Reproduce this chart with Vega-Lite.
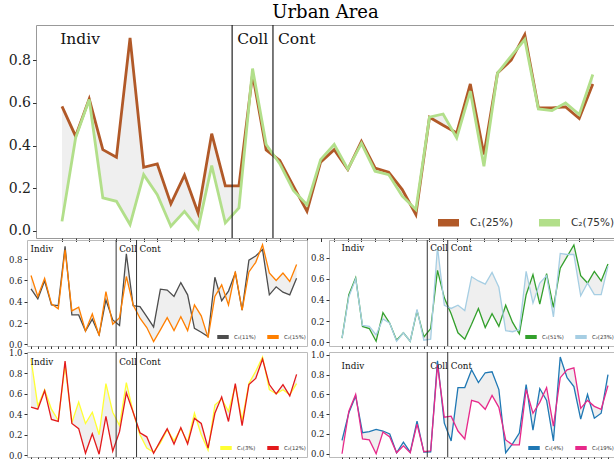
{
  "$schema": "https://vega.github.io/schema/vega-lite/v6.json",
  "background": "white",
  "padding": {"left": 7, "top": 3, "right": 0, "bottom": 0},
  "config": {
    "view": {"stroke": "#999", "strokeWidth": 1},
    "axis": {"grid": false, "domain": false, "tickColor": "#333", "labelColor": "#222", "labelFont": "DejaVu Serif", "labelPadding": 2, "minExtent": 0, "labelOverlap": false, "labelFlush": false},
    "legend": {"title": null, "padding": 0, "labelFont": "DejaVu Sans", "labelColor": "#333"}
  },
  "datasets": {
    "regions": [{"region": "Indiv", "start": -0.5}, {"region": "Coll", "start": 12.5}, {"region": "Cont", "start": 15.5}],
    "bounds": [{"b": 12.5}, {"b": 15.5}],
    "urban": [
      {"i":0,"c1":0.584,"c2":0.045},{"i":1,"c1":0.444,"c2":0.436},{"i":2,"c1":0.619,"c2":0.616},{"i":3,"c1":0.381,"c2":0.155},
      {"i":4,"c1":0.345,"c2":0.139},{"i":5,"c1":0.905,"c2":0.03},{"i":6,"c1":0.298,"c2":0.264},{"i":7,"c1":0.314,"c2":0.17},
      {"i":8,"c1":0.127,"c2":0.022},{"i":9,"c1":0.261,"c2":0.092},{"i":10,"c1":0.084,"c2":0.011},{"i":11,"c1":0.456,"c2":0.306},
      {"i":12,"c1":0.211,"c2":0.0375},{"i":13,"c1":0.211,"c2":0.108},{"i":14,"c1":0.735,"c2":0.761},{"i":15,"c1":0.38,"c2":0.405},
      {"i":16,"c1":0.33,"c2":0.315},{"i":17,"c1":0.21,"c2":0.19},{"i":18,"c1":0.092,"c2":0.123},{"i":19,"c1":0.322,"c2":0.334},
      {"i":20,"c1":0.381,"c2":0.405},{"i":21,"c1":0.288,"c2":0.29},{"i":22,"c1":0.42,"c2":0.41},{"i":23,"c1":0.295,"c2":0.28},
      {"i":24,"c1":0.275,"c2":0.264},{"i":25,"c1":0.194,"c2":0.163},{"i":26,"c1":0.077,"c2":0.1},{"i":27,"c1":0.533,"c2":0.533},
      {"i":28,"c1":0.495,"c2":0.548},{"i":29,"c1":0.459,"c2":0.436},{"i":30,"c1":0.689,"c2":0.655},{"i":31,"c1":0.358,"c2":0.303},
      {"i":32,"c1":0.74,"c2":0.74},{"i":33,"c1":0.8,"c2":0.819},{"i":34,"c1":0.92,"c2":0.897},{"i":35,"c1":0.577,"c2":0.572},
      {"i":36,"c1":0.577,"c2":0.564},{"i":37,"c1":0.581,"c2":0.6},{"i":38,"c1":0.527,"c2":0.545},{"i":39,"c1":0.689,"c2":0.733}
    ],
    "pa": [
      {"i":0,"c1":0.52,"c2":0.646},{"i":1,"c1":0.427,"c2":0.449},{"i":2,"c1":0.596,"c2":0.62},{"i":3,"c1":0.37,"c2":0.38},
      {"i":4,"c1":0.364,"c2":0.333},{"i":5,"c1":0.92,"c2":0.888},{"i":6,"c1":0.276,"c2":0.314},{"i":7,"c1":0.276,"c2":0.348},
      {"i":8,"c1":0.125,"c2":0.125},{"i":9,"c1":0.235,"c2":0.285},{"i":10,"c1":0.088,"c2":0.082},{"i":11,"c1":0.417,"c2":0.496},
      {"i":12,"c1":0.229,"c2":0.188},{"i":13,"c1":0.176,"c2":0.25},{"i":14,"c1":0.85,"c2":0.637},{"i":15,"c1":0.364,"c2":0.37},
      {"i":16,"c1":0.355,"c2":0.245},{"i":17,"c1":0.26,"c2":0.157},{"i":18,"c1":0.163,"c2":0.025},{"i":19,"c1":0.518,"c2":0.135},
      {"i":20,"c1":0.51,"c2":0.25},{"i":21,"c1":0.45,"c2":0.129},{"i":22,"c1":0.58,"c2":0.26},{"i":23,"c1":0.465,"c2":0.129},
      {"i":24,"c1":0.15,"c2":0.37},{"i":25,"c1":0.113,"c2":0.267},{"i":26,"c1":0.072,"c2":0.063},{"i":27,"c1":0.63,"c2":0.449},
      {"i":28,"c1":0.41,"c2":0.558},{"i":29,"c1":0.5,"c2":0.37},{"i":30,"c1":0.67,"c2":0.684},{"i":31,"c1":0.32,"c2":0.32},
      {"i":32,"c1":0.79,"c2":0.68},{"i":33,"c1":0.83,"c2":0.77},{"i":34,"c1":0.89,"c2":0.935},{"i":35,"c1":0.465,"c2":0.67},
      {"i":36,"c1":0.54,"c2":0.6},{"i":37,"c1":0.49,"c2":0.67},{"i":38,"c1":0.465,"c2":0.59},{"i":39,"c1":0.62,"c2":0.75}
    ],
    "pb": [
      {"i":0,"c1":0.04,"c2":0.04},{"i":1,"c1":0.45,"c2":0.43},{"i":2,"c1":0.61,"c2":0.6},{"i":3,"c1":0.15,"c2":0.16},
      {"i":4,"c1":0.13,"c2":0.15},{"i":5,"c1":0.01,"c2":0.07},{"i":6,"c1":0.28,"c2":0.22},{"i":7,"c1":0.18,"c2":0.18},
      {"i":8,"c1":0.02,"c2":0.01},{"i":9,"c1":0.09,"c2":0.09},{"i":10,"c1":0.01,"c2":0.01},{"i":11,"c1":0.3,"c2":0.31},
      {"i":12,"c1":0.05,"c2":0.02},{"i":13,"c1":0.13,"c2":0.03},{"i":14,"c1":0.68,"c2":0.9},{"i":15,"c1":0.42,"c2":0.35},
      {"i":16,"c1":0.27,"c2":0.32},{"i":17,"c1":0.09,"c2":0.35},{"i":18,"c1":0.03,"c2":0.3},{"i":19,"c1":0.17,"c2":0.62},
      {"i":20,"c1":0.32,"c2":0.58},{"i":21,"c1":0.14,"c2":0.55},{"i":22,"c1":0.27,"c2":0.66},{"i":23,"c1":0.15,"c2":0.52},
      {"i":24,"c1":0.35,"c2":0.11},{"i":25,"c1":0.19,"c2":0.1},{"i":26,"c1":0.08,"c2":0.12},{"i":27,"c1":0.45,"c2":0.67},
      {"i":28,"c1":0.64,"c2":0.37},{"i":29,"c1":0.36,"c2":0.56},{"i":30,"c1":0.65,"c2":0.63},{"i":31,"c1":0.33,"c2":0.24},
      {"i":32,"c1":0.7,"c2":0.84},{"i":33,"c1":0.81,"c2":0.83},{"i":34,"c1":0.92,"c2":0.83},{"i":35,"c1":0.63,"c2":0.44},
      {"i":36,"c1":0.56,"c2":0.56},{"i":37,"c1":0.67,"c2":0.45},{"i":38,"c1":0.58,"c2":0.45},{"i":39,"c1":0.74,"c2":0.72}
    ],
    "pc": [
      {"i":0,"c1":0.94,"c2":0.47},{"i":1,"c1":0.48,"c2":0.45},{"i":2,"c1":0.64,"c2":0.63},{"i":3,"c1":0.45,"c2":0.35},
      {"i":4,"c1":0.34,"c2":0.33},{"i":5,"c1":0.88,"c2":0.92},{"i":6,"c1":0.32,"c2":0.31},{"i":7,"c1":0.52,"c2":0.26},
      {"i":8,"c1":0.31,"c2":0.02},{"i":9,"c1":0.42,"c2":0.21},{"i":10,"c1":0.2,"c2":0.01},{"i":11,"c1":0.7,"c2":0.38},
      {"i":12,"c1":0.42,"c2":0.04},{"i":13,"c1":0.29,"c2":0.23},{"i":14,"c1":0.71,"c2":0.61},{"i":15,"c1":0.42,"c2":0.42},
      {"i":16,"c1":0.2,"c2":0.22},{"i":17,"c1":0.07,"c2":0.18},{"i":18,"c1":0.03,"c2":0.02},{"i":19,"c1":0.12,"c2":0.14},
      {"i":20,"c1":0.25,"c2":0.26},{"i":21,"c1":0.14,"c2":0.11},{"i":22,"c1":0.26,"c2":0.27},{"i":23,"c1":0.13,"c2":0.11},
      {"i":24,"c1":0.41,"c2":0.36},{"i":25,"c1":0.2,"c2":0.31},{"i":26,"c1":0.05,"c2":0.07},{"i":27,"c1":0.49,"c2":0.41},
      {"i":28,"c1":0.55,"c2":0.57},{"i":29,"c1":0.43,"c2":0.33},{"i":30,"c1":0.68,"c2":0.7},{"i":31,"c1":0.34,"c2":0.29},
      {"i":32,"c1":0.7,"c2":0.69},{"i":33,"c1":0.82,"c2":0.75},{"i":34,"c1":0.96,"c2":0.94},{"i":35,"c1":0.64,"c2":0.69},
      {"i":36,"c1":0.6,"c2":0.6},{"i":37,"c1":0.64,"c2":0.69},{"i":38,"c1":0.59,"c2":0.58},{"i":39,"c1":0.7,"c2":0.79}
    ],
    "pd": [
      {"i":0,"c1":0.135,"c2":0.0},{"i":1,"c1":0.415,"c2":0.43},{"i":2,"c1":0.585,"c2":0.6},{"i":3,"c1":0.213,"c2":0.15},
      {"i":4,"c1":0.223,"c2":0.14},{"i":5,"c1":0.247,"c2":0.0},{"i":6,"c1":0.23,"c2":0.22},{"i":7,"c1":0.2,"c2":0.17},
      {"i":8,"c1":0.01,"c2":0.01},{"i":9,"c1":0.118,"c2":0.08},{"i":10,"c1":0.017,"c2":0.01},{"i":11,"c1":0.33,"c2":0.3},
      {"i":12,"c1":0.017,"c2":0.02},{"i":13,"c1":0.02,"c2":0.03},{"i":14,"c1":0.94,"c2":0.9},{"i":15,"c1":0.31,"c2":0.37},
      {"i":16,"c1":0.13,"c2":0.38},{"i":17,"c1":0.67,"c2":0.23},{"i":18,"c1":0.67,"c2":0.15},{"i":19,"c1":0.85,"c2":0.54},
      {"i":20,"c1":0.72,"c2":0.52},{"i":21,"c1":0.82,"c2":0.45},{"i":22,"c1":0.83,"c2":0.59},{"i":23,"c1":0.65,"c2":0.47},
      {"i":24,"c1":0.01,"c2":0.14},{"i":25,"c1":0.1,"c2":0.09},{"i":26,"c1":0.21,"c2":0.09},{"i":27,"c1":0.7,"c2":0.65},
      {"i":28,"c1":0.24,"c2":0.41},{"i":29,"c1":0.66,"c2":0.52},{"i":30,"c1":0.54,"c2":0.67},{"i":31,"c1":0.13,"c2":0.28},
      {"i":32,"c1":0.98,"c2":0.77},{"i":33,"c1":0.77,"c2":0.85},{"i":34,"c1":0.68,"c2":0.87},{"i":35,"c1":0.35,"c2":0.46},
      {"i":36,"c1":0.6,"c2":0.54},{"i":37,"c1":0.36,"c2":0.48},{"i":38,"c1":0.41,"c2":0.45},{"i":39,"c1":0.8,"c2":0.69}
    ]
  },
  "resolve": {"scale": {"x": "independent", "y": "independent", "color": "independent"}, "legend": {"color": "independent"}},
  "align": "none",
  "spacing": -4,
  "vconcat": [
    {
      "align": "each", "spacing": -21,
      "resolve": {"scale": {"x": "independent", "y": "independent", "color": "independent"}, "legend": {"color": "independent"}},
      "hconcat": [
        {"width": 1, "height": 1, "view": {"stroke": null}, "data": {"values": []}, "mark": "point"},
        {
          "width": 579, "height": 213,
          "title": {"text": "Urban Area", "font": "DejaVu Serif", "fontSize": 18, "fontWeight": "normal", "color": "#000", "anchor": "middle", "frame": "group", "baseline": "bottom", "offset": -16},
          "data": {"name": "urban"},
          "layer": [
            {"mark": {"type": "area", "color": "#efefef"},
             "encoding": {
               "x": {"field": "i", "type": "quantitative", "title": null, "scale": {"domain": [-1.91, 40.63], "nice": false, "zero": false},
                     "axis": {"labels": false, "tickSize": 3.5, "tickCount": 60, "values": [0,1,2,3,4,5,6,7,8,9,10,11,12,13,14,15,16,17,18,19,20,21,22,23,24,25,26,27,28,29,30,31,32,33,34,35,36,37,38,39]}},
               "y": {"field": "c1", "type": "quantitative", "title": null, "scale": {"domain": [-0.033, 0.965], "nice": false, "zero": false},
                     "axis": {"values": [0, 0.2, 0.4, 0.6, 0.8], "tickCount": 10, "format": ".1f", "labelFontSize": 14, "tickSize": 3.5, "labelOverlap": false}},
               "y2": {"field": "c2"}}},
            {"mark": {"type": "line", "strokeWidth": 2.8},
             "encoding": {
               "x": {"field": "i", "type": "quantitative", "title": null},
               "y": {"field": "c1", "type": "quantitative", "title": null},
               "color": {"datum": "C₁(25%)", "scale": {"domain": ["C₁(25%)", "C₂(75%)"], "range": ["#b15928", "#b2df8a"]},
                         "legend": {"orient": "bottom-right", "direction": "horizontal", "symbolType": "stroke", "symbolStrokeWidth": 7.5, "symbolSize": 441, "labelFontSize": 10.5, "labelOffset": 7, "columnPadding": 10, "offset": 0}}}},
            {"mark": {"type": "line", "strokeWidth": 2.8},
             "encoding": {
               "x": {"field": "i", "type": "quantitative", "title": null},
               "y": {"field": "c2", "type": "quantitative", "title": null},
               "color": {"datum": "C₂(75%)"}}},
            {"data": {"name": "bounds"}, "mark": {"type": "rule", "color": "#222", "strokeWidth": 1.2},
             "encoding": {"x": {"field": "b", "type": "quantitative", "title": null}}},
            {"data": {"name": "regions"}, "mark": {"type": "text", "align": "left", "baseline": "alphabetic", "font": "DejaVu Serif", "fontSize": 15.5, "dx": 5, "color": "#111"},
             "encoding": {"x": {"field": "start", "type": "quantitative", "title": null}, "y": {"datum": 0.878}, "text": {"field": "region"}}}
          ]
        }
      ]
    },
    {
      "align": "none",
      "spacing": -2,
      "resolve": {"scale": {"x": "independent", "y": "independent", "color": "independent"}, "legend": {"color": "independent"}},
      "vconcat": [
        {
          "align": "each", "spacing": 1,
          "resolve": {"scale": {"x": "independent", "y": "independent", "color": "independent"}, "legend": {"color": "independent"}},
          "hconcat": [
            {
              "width": 280, "height": 106, "view": {"stroke": "#bbb"},
              "data": {"name": "pa"},
              "layer": [
                {"mark": {"type": "area", "color": "#efefef"},
                 "encoding": {
                   "x": {"field": "i", "type": "quantitative", "title": null, "scale": {"domain": [-0.59, 40.53], "nice": false, "zero": false},
                         "axis": {"labels": false, "tickSize": 2.5, "tickCount": 60, "values": [0,1,2,3,4,5,6,7,8,9,10,11,12,13,14,15,16,17,18,19,20,21,22,23,24,25,26,27,28,29,30,31,32,33,34,35,36,37,38,39]}},
                   "y": {"field": "c1", "type": "quantitative", "title": null, "scale": {"domain": [-0.016, 0.98], "nice": false, "zero": false},
                         "axis": {"values": [0, 0.2, 0.4, 0.6, 0.8], "tickCount": 10, "format": ".1f", "labelFontSize": 8.5, "tickSize": 3, "labelOverlap": false}},
                   "y2": {"field": "c2"}}},
                {"mark": {"type": "line", "strokeWidth": 1.3},
                 "encoding": {
                   "x": {"field": "i", "type": "quantitative", "title": null},
                   "y": {"field": "c1", "type": "quantitative", "title": null},
                   "color": {"datum": "C₁(11%)", "scale": {"domain": ["C₁(11%)", "C₂(15%)"], "range": ["#4d4d4d", "#ff7f00"]},
                             "legend": {"orient": "bottom-right", "direction": "horizontal", "symbolType": "stroke", "symbolStrokeWidth": 4, "symbolSize": 132, "labelFontSize": 5.3, "labelOffset": 3, "columnPadding": 3, "offset": 1}}}},
                {"mark": {"type": "line", "strokeWidth": 1.3},
                 "encoding": {
                   "x": {"field": "i", "type": "quantitative", "title": null},
                   "y": {"field": "c2", "type": "quantitative", "title": null},
                   "color": {"datum": "C₂(15%)"}}},
                {"data": {"name": "bounds"}, "mark": {"type": "rule", "color": "#333", "strokeWidth": 1},
                 "encoding": {"x": {"field": "b", "type": "quantitative", "title": null}}},
                {"data": {"name": "regions"}, "mark": {"type": "text", "align": "left", "baseline": "alphabetic", "font": "DejaVu Serif", "fontSize": 8.8, "dx": 3, "color": "#111"},
                 "encoding": {"x": {"field": "start", "type": "quantitative", "title": null}, "y": {"datum": 0.87}, "text": {"field": "region"}}}
              ]
            },
            {
              "width": 286, "height": 106, "view": {"stroke": "#bbb"},
              "data": {"name": "pb"},
              "layer": [
                {"mark": {"type": "area", "color": "#efefef"},
                 "encoding": {
                   "x": {"field": "i", "type": "quantitative", "title": null, "scale": {"domain": [-1.91, 40.03], "nice": false, "zero": false},
                         "axis": {"labels": false, "tickSize": 2.5, "tickCount": 60, "values": [0,1,2,3,4,5,6,7,8,9,10,11,12,13,14,15,16,17,18,19,20,21,22,23,24,25,26,27,28,29,30,31,32,33,34,35,36,37,38,39]}},
                   "y": {"field": "c1", "type": "quantitative", "title": null, "scale": {"domain": [-0.035, 0.967], "nice": false, "zero": false},
                         "axis": {"values": [0, 0.2, 0.4, 0.6, 0.8], "tickCount": 10, "format": ".1f", "labelFontSize": 8.5, "tickSize": 3, "labelOverlap": false}},
                   "y2": {"field": "c2"}}},
                {"mark": {"type": "line", "strokeWidth": 1.3},
                 "encoding": {
                   "x": {"field": "i", "type": "quantitative", "title": null},
                   "y": {"field": "c1", "type": "quantitative", "title": null},
                   "color": {"datum": "C₁(51%)", "scale": {"domain": ["C₁(51%)", "C₂(23%)"], "range": ["#33a02c", "#a6cee3"]},
                             "legend": {"orient": "bottom-right", "direction": "horizontal", "symbolType": "stroke", "symbolStrokeWidth": 4, "symbolSize": 132, "labelFontSize": 5.3, "labelOffset": 3, "columnPadding": 3, "offset": 1}}}},
                {"mark": {"type": "line", "strokeWidth": 1.3},
                 "encoding": {
                   "x": {"field": "i", "type": "quantitative", "title": null},
                   "y": {"field": "c2", "type": "quantitative", "title": null},
                   "color": {"datum": "C₂(23%)"}}},
                {"data": {"name": "bounds"}, "mark": {"type": "rule", "color": "#333", "strokeWidth": 1},
                 "encoding": {"x": {"field": "b", "type": "quantitative", "title": null}}},
                {"data": {"name": "regions"}, "mark": {"type": "text", "align": "left", "baseline": "alphabetic", "font": "DejaVu Serif", "fontSize": 8.8, "dx": 3, "color": "#111"},
                 "encoding": {"x": {"field": "start", "type": "quantitative", "title": null}, "y": {"datum": 0.86}, "text": {"field": "region"}}}
              ]
            }
          ]
        },
        {
          "align": "each", "spacing": 1,
          "resolve": {"scale": {"x": "independent", "y": "independent", "color": "independent"}, "legend": {"color": "independent"}},
          "hconcat": [
            {
              "width": 280, "height": 105, "view": {"stroke": "#bbb"},
              "data": {"name": "pc"},
              "layer": [
                {"mark": {"type": "area", "color": "#efefef"},
                 "encoding": {
                   "x": {"field": "i", "type": "quantitative", "title": null, "scale": {"domain": [-0.59, 40.53], "nice": false, "zero": false},
                         "axis": {"labels": false, "tickSize": 2.5, "tickCount": 60, "values": [0,1,2,3,4,5,6,7,8,9,10,11,12,13,14,15,16,17,18,19,20,21,22,23,24,25,26,27,28,29,30,31,32,33,34,35,36,37,38,39]}},
                   "y": {"field": "c1", "type": "quantitative", "title": null, "scale": {"domain": [-0.017, 1.008], "nice": false, "zero": false},
                         "axis": {"values": [0, 0.2, 0.4, 0.6, 0.8, 1.0], "tickCount": 10, "format": ".1f", "labelFontSize": 8.5, "tickSize": 3, "labelOverlap": false}},
                   "y2": {"field": "c2"}}},
                {"mark": {"type": "line", "strokeWidth": 1.3},
                 "encoding": {
                   "x": {"field": "i", "type": "quantitative", "title": null},
                   "y": {"field": "c1", "type": "quantitative", "title": null},
                   "color": {"datum": "C₁(3%)", "scale": {"domain": ["C₁(3%)", "C₂(12%)"], "range": ["#ffff33", "#e31a1c"]},
                             "legend": {"orient": "bottom-right", "direction": "horizontal", "symbolType": "stroke", "symbolStrokeWidth": 4, "symbolSize": 132, "labelFontSize": 5.3, "labelOffset": 3, "columnPadding": 3, "offset": 1}}}},
                {"mark": {"type": "line", "strokeWidth": 1.3},
                 "encoding": {
                   "x": {"field": "i", "type": "quantitative", "title": null},
                   "y": {"field": "c2", "type": "quantitative", "title": null},
                   "color": {"datum": "C₂(12%)"}}},
                {"data": {"name": "bounds"}, "mark": {"type": "rule", "color": "#333", "strokeWidth": 1},
                 "encoding": {"x": {"field": "b", "type": "quantitative", "title": null}}},
                {"data": {"name": "regions"}, "mark": {"type": "text", "align": "left", "baseline": "alphabetic", "font": "DejaVu Serif", "fontSize": 8.8, "dx": 3, "color": "#111"},
                 "encoding": {"x": {"field": "start", "type": "quantitative", "title": null}, "y": {"datum": 0.88}, "text": {"field": "region"}}}
              ]
            },
            {
              "width": 286, "height": 105, "view": {"stroke": "#bbb"},
              "data": {"name": "pd"},
              "layer": [
                {"mark": {"type": "area", "color": "#efefef"},
                 "encoding": {
                   "x": {"field": "i", "type": "quantitative", "title": null, "scale": {"domain": [-1.91, 40.03], "nice": false, "zero": false},
                         "axis": {"labels": false, "tickSize": 2.5, "tickCount": 60, "values": [0,1,2,3,4,5,6,7,8,9,10,11,12,13,14,15,16,17,18,19,20,21,22,23,24,25,26,27,28,29,30,31,32,33,34,35,36,37,38,39]}},
                   "y": {"field": "c1", "type": "quantitative", "title": null, "scale": {"domain": [-0.033, 1.03], "nice": false, "zero": false},
                         "axis": {"values": [0, 0.2, 0.4, 0.6, 0.8, 1.0], "tickCount": 10, "format": ".1f", "labelFontSize": 8.5, "tickSize": 3, "labelOverlap": false}},
                   "y2": {"field": "c2"}}},
                {"mark": {"type": "line", "strokeWidth": 1.3},
                 "encoding": {
                   "x": {"field": "i", "type": "quantitative", "title": null},
                   "y": {"field": "c1", "type": "quantitative", "title": null},
                   "color": {"datum": "C₁(4%)", "scale": {"domain": ["C₁(4%)", "C₂(19%)"], "range": ["#1f78b4", "#e7298a"]},
                             "legend": {"orient": "bottom-right", "direction": "horizontal", "symbolType": "stroke", "symbolStrokeWidth": 4, "symbolSize": 132, "labelFontSize": 5.3, "labelOffset": 3, "columnPadding": 3, "offset": 1}}}},
                {"mark": {"type": "line", "strokeWidth": 1.3},
                 "encoding": {
                   "x": {"field": "i", "type": "quantitative", "title": null},
                   "y": {"field": "c2", "type": "quantitative", "title": null},
                   "color": {"datum": "C₂(19%)"}}},
                {"data": {"name": "bounds"}, "mark": {"type": "rule", "color": "#333", "strokeWidth": 1},
                 "encoding": {"x": {"field": "b", "type": "quantitative", "title": null}}},
                {"data": {"name": "regions"}, "mark": {"type": "text", "align": "left", "baseline": "alphabetic", "font": "DejaVu Serif", "fontSize": 8.8, "dx": 3, "color": "#111"},
                 "encoding": {"x": {"field": "start", "type": "quantitative", "title": null}, "y": {"datum": 0.86}, "text": {"field": "region"}}}
              ]
            }
          ]
        }
      ]
    }
  ]
}
